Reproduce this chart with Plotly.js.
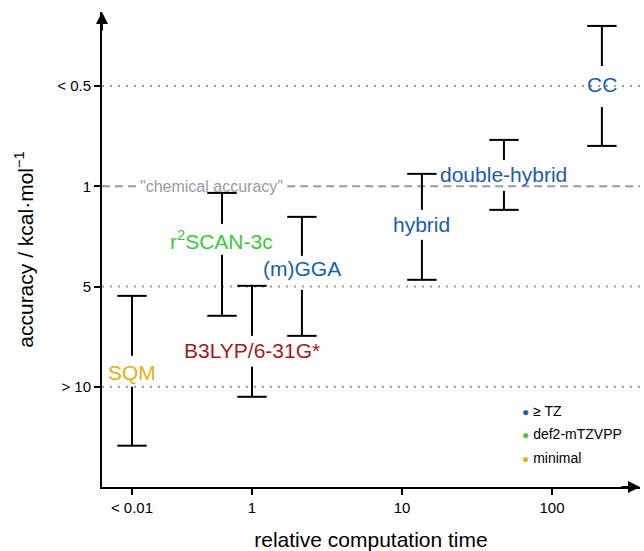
<!DOCTYPE html>
<html>
<head>
<meta charset="utf-8">
<script src="https://cdn.plot.ly/plotly-3.0.1.min.js"></script>
<style>html,body{margin:0;padding:0;background:#fff;}#chart{width:644px;height:551px;}</style>
</head>
<body>
<div id="chart"></div>
<script>
// ---- data ----
// x: log10(relative computation time) position; y: accuracy level (3 = "< 0.5", 2 = "1", 1 = "5", 0 = "> 10")
const methods   = ["SQM", "r<sup>2</sup>SCAN-3c", "B3LYP/6-31G*", "(m)GGA", "hybrid", "double-hybrid", "CC"];
const xPos      = [-0.8, -0.2, 0.0, 0.333, 1.133, 1.68, 2.333];
const yHigh     = [0.907, 1.934, 1.007, 1.695, 2.124, 2.463, 3.60];
const yLow      = [-0.588, 0.708, -0.10, 0.508, 1.067, 1.765, 2.403];
const labelY    = [0.14, 1.46, 0.36, 1.18, 1.615, 2.12, 3.02];
const gapHigh   = [0.31, 1.625, 0.508, 1.306, 1.765, 2.263, 3.20];
const gapLow    = [0.0, 1.316, 0.20, 0.967, 1.466, 1.954, 2.79];
const basis     = ["minimal", "def2-mTZVPP", "small", "≥ TZ", "≥ TZ", "≥ TZ", "≥ TZ"];

const xTickVals = [-0.8, 0, 1, 2];
const xTickText = ["< 0.01", "1", "10", "100"];
const yTickVals = [3, 2, 1, 0];
const yTickText = ["< 0.5", "1", "5", "> 10"];
const legendNames = ["≥ TZ", "def2-mTZVPP", "minimal"];

const colors = {"≥ TZ": "#1b5ea8", "def2-mTZVPP": "#3cc83c", "minimal": "#e6b012", "small": "#a31a1a"};
const FONT = "Liberation Sans, Arial, sans-serif";

// whiskers (broken around label)
const wx = [], wy = [];
const cx = [], cy = [];
methods.forEach((m, i) => {
  wx.push(xPos[i], xPos[i], null, xPos[i], xPos[i], null);
  wy.push(yHigh[i], gapHigh[i], null, gapLow[i], yLow[i], null);
  cx.push(xPos[i], xPos[i]);
  cy.push(yHigh[i], yLow[i]);
});

const traces = [
  {x: wx, y: wy, mode: "lines", line: {color: "#000", width: 2}, hoverinfo: "skip", showlegend: false},
  {x: cx, y: cy, mode: "markers", marker: {symbol: "line-ew-open", size: 21, color: "#000", line: {color: "#000", width: 2}}, hoverinfo: "skip", showlegend: false}
];

const annotations = methods.map((m, i) => ({
  x: xPos[i], y: labelY[i], xref: "x", yref: "y", text: m, showarrow: false,
  font: {family: FONT, size: 21, color: colors[basis[i]]}, xanchor: "center", yanchor: "middle"
}));

// chemical accuracy label
annotations.push({x: -0.267, y: 2, xref: "x", yref: "y", text: "\"chemical accuracy\"", showarrow: false,
  font: {family: FONT, size: 16, color: "#9a9aa4"}, xanchor: "center", yanchor: "middle"});

// legend
legendNames.forEach((n, i) => {
  annotations.push({x: 1.79, y: -0.24 - i * 0.235, xref: "x", yref: "y", xanchor: "left", yanchor: "middle", showarrow: false,
    text: `<span style="color:${colors[n]};font-size:12px">●</span> ${n}`,
    font: {family: FONT, size: 14, color: "#000"}});
});

// axis arrows
annotations.push({x: 1, y: 0, xref: "paper", yref: "paper", ax: -20, ay: 0, axref: "pixel", ayref: "pixel",
  showarrow: true, arrowhead: 2, arrowsize: 1.2, arrowwidth: 2, arrowcolor: "#000", text: ""});
annotations.push({x: 0, y: 1, xref: "paper", yref: "paper", ax: 0, ay: 20, axref: "pixel", ayref: "pixel",
  showarrow: true, arrowhead: 2, arrowsize: 1.2, arrowwidth: 2, arrowcolor: "#000", text: ""});

const shapes = [];
[3, 1, 0].forEach(v => shapes.push({type: "line", xref: "paper", x0: 0, x1: 1, yref: "y", y0: v, y1: v,
  line: {color: "#9a9a9a", width: 2, dash: "2px,6px"}, layer: "below"}));
// "chemical accuracy" dashed line, broken around its label
shapes.push({type: "line", xref: "x", x0: -1.0, x1: -0.76, yref: "y", y0: 2, y1: 2,
  line: {color: "#9a9aa4", width: 2, dash: "8px,5px"}, layer: "below"});
shapes.push({type: "line", xref: "x", x0: 0.235, x1: 2.587, yref: "y", y0: 2, y1: 2,
  line: {color: "#9a9aa4", width: 2, dash: "8px,5px"}, layer: "below"});

const layout = {
  width: 644, height: 551,
  margin: {l: 102, r: 4, t: 12, b: 64},
  paper_bgcolor: "#fff", plot_bgcolor: "#fff",
  showlegend: false,
  font: {family: FONT, color: "#000"},
  xaxis: {
    range: [-1.0, 2.587], showgrid: false, zeroline: false,
    showline: true, linecolor: "#000", linewidth: 2,
    ticks: "outside", ticklen: 6, tickwidth: 2, tickcolor: "#000",
    tickvals: xTickVals, ticktext: xTickText, tickfont: {family: FONT, size: 15},
    title: {text: "relative computation time", font: {family: FONT, size: 21}, standoff: 20}
  },
  yaxis: {
    range: [-1.0, 3.739], showgrid: false, zeroline: false,
    showline: true, linecolor: "#000", linewidth: 2,
    ticks: "outside", ticklen: 6, tickwidth: 2, tickcolor: "#000",
    tickvals: yTickVals, ticktext: yTickText, tickfont: {family: FONT, size: 15},
    title: {text: "accuracy / kcal·mol<sup>−1</sup>", font: {family: FONT, size: 21}, standoff: 18}
  },
  shapes: shapes,
  annotations: annotations
};

Plotly.newPlot("chart", traces, layout, {staticPlot: true, displayModeBar: false});
</script>
</body>
</html>
